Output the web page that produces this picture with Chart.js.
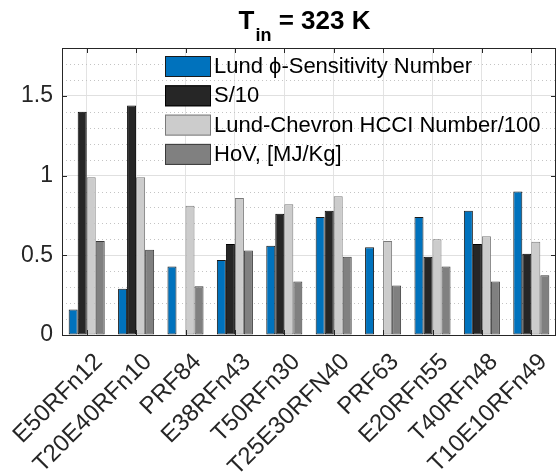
<!DOCTYPE html>
<html>
<head>
<meta charset="utf-8">
<script src="https://cdn.jsdelivr.net/npm/chart.js@4.4.1/dist/chart.umd.min.js"></script>
<style>
  html, body { margin: 0; padding: 0; background: #fff; }
</style>
</head>
<body>
<canvas id="barChart" width="560" height="474"></canvas>
<script>
// Datos (Tin = 323 K)
const fuels = ['E50RFn12', 'T20E40RFn10', 'PRF84', 'E38RFn43', 'T50RFn30',
               'T25E30RFN40', 'PRF63', 'E20RFn55', 'T40RFn48', 'T10E10RFn49'];
const lundSensitivity = [0.16, 0.29, 0.43, 0.47, 0.56, 0.74, 0.55, 0.74, 0.78, 0.90];
const sOver10 = [1.40, 1.44, 0, 0.57, 0.76, 0.78, 0, 0.49, 0.57, 0.51];
const lundChevron = [0.99, 0.99, 0.81, 0.86, 0.82, 0.87, 0.59, 0.60, 0.62, 0.585];
const hov = [0.59, 0.535, 0.305, 0.53, 0.335, 0.49, 0.31, 0.43, 0.335, 0.375];
const seriesNames = ['Lund \u03D5-Sensitivity Number', 'S/10', 'Lund-Chevron HCCI Number/100', 'HoV, [MJ/Kg]'];
const yTicks = [0, 0.5, 1, 1.5];

const FONT = '"Liberation Sans", Arial, sans-serif';
const TXT = '#262626';

// Título con subíndice: T_in = 323 K
const titlePlugin = {
    id: 'titleSub',
    afterDraw(chart) {
        const ctx = chart.ctx;
        const big = 'bold 26px ' + FONT;
        const small = 'bold 18px ' + FONT;
        ctx.save();
        ctx.fillStyle = '#000';
        ctx.textBaseline = 'alphabetic';
        ctx.font = big;
        const wT = ctx.measureText('T').width;
        const wRest = ctx.measureText(' = 323 K').width;
        ctx.font = small;
        const wIn = ctx.measureText('in').width;
        let x = 304 - (wT + wIn + wRest) / 2;
        const y = 29;
        ctx.font = big;
        ctx.fillText('T', x, y);
        x += wT + 1;
        ctx.font = small;
        ctx.fillText('in', x, y + 12);
        x += wIn;
        ctx.font = big;
        ctx.fillText(' = 323 K', x, y);
        ctx.restore();
    }
};

// Rejilla menor punteada, caja y marcas hacia dentro
const axesPlugin = {
    id: 'matlabAxes',
    beforeDatasetsDraw(chart) {
        const ctx = chart.ctx;
        const area = chart.chartArea;
        const y = chart.scales.y;
        ctx.save();
        ctx.strokeStyle = '#c4c4c4';
        ctx.lineWidth = 1;
        ctx.setLineDash([1, 3]);
        for (let i = 1; i < 18; i++) {
            if (i % 5 === 0) continue;
            const py = Math.round(y.getPixelForValue(i / 10)) + 0.5;
            ctx.beginPath();
            ctx.moveTo(area.left, py);
            ctx.lineTo(area.right, py);
            ctx.stroke();
        }
        ctx.restore();
    },
    afterDatasetsDraw(chart) {
        const ctx = chart.ctx;
        const area = chart.chartArea;
        const xs = chart.scales.x;
        const ys = chart.scales.y;
        ctx.save();
        ctx.strokeStyle = TXT;
        ctx.lineWidth = 1;
        ctx.strokeRect(Math.round(area.left) + 0.5, Math.round(area.top) + 0.5,
            Math.round(area.right - area.left) - 1, Math.round(area.bottom - area.top));
        ctx.beginPath();
        fuels.forEach((f, i) => {
            const px = Math.round(xs.getPixelForValue(i)) + 0.5;
            ctx.moveTo(px, area.bottom); ctx.lineTo(px, area.bottom - 5);
            ctx.moveTo(px, area.top); ctx.lineTo(px, area.top + 5);
        });
        yTicks.forEach(v => {
            const py = Math.round(ys.getPixelForValue(v)) + 0.5;
            ctx.moveTo(area.left, py); ctx.lineTo(area.left + 5, py);
            ctx.moveTo(area.right, py); ctx.lineTo(area.right - 5, py);
        });
        ctx.stroke();

        // Leyenda dentro del área
        const lx = 165, ly = 56, pitch = 29.3;
        ctx.font = '22px ' + FONT;
        ctx.textBaseline = 'middle';
        chart.data.datasets.forEach((ds, i) => {
            const top = ly + i * pitch;
            ctx.fillStyle = ds.backgroundColor;
            ctx.fillRect(lx, top, 46, 21);
            ctx.strokeStyle = ds.borderColor;
            ctx.strokeRect(lx + 0.5, top + 0.5, 45, 20);
            ctx.fillStyle = '#000';
            ctx.fillText(ds.label, lx + 49, top + 11);
        });
        ctx.restore();
    }
};

const colors = ['#0072BD', '#262626', '#CCCCCC', '#808080'];
const edges = ['#1a1a1a', '#000000', '#7a7a7a', '#3a3a3a'];
const seriesData = [lundSensitivity, sOver10, lundChevron, hov];

new Chart(document.getElementById('barChart'), {
    type: 'bar',
    data: {
        labels: fuels,
        datasets: seriesData.map((d, i) => ({
            label: seriesNames[i],
            data: d,
            backgroundColor: colors[i],
            borderColor: edges[i],
            borderWidth: 1,
            borderSkipped: false,
            categoryPercentage: 0.73,
            barPercentage: 1.0
        }))
    },
    options: {
        responsive: false,
        animation: false,
        devicePixelRatio: 1,
        layout: { padding: { top: 48, right: 4, left: 0, bottom: 0 } },
        plugins: {
            legend: { display: false },
            title: { display: false },
            tooltip: { enabled: false }
        },
        scales: {
            x: {
                offset: true,
                afterFit: s => {
                    s.height = 139;
                    s.paddingLeft = 0;
                    s.paddingRight = 0;
                },
                grid: { offset: false, color: '#e3e3e3', drawTicks: false },
                border: { display: false },
                ticks: {
                    autoSkip: false,
                    minRotation: 45,
                    maxRotation: 45,
                    padding: 13,
                    labelOffset: 12,
                    color: TXT,
                    font: { family: FONT, size: 24 }
                }
            },
            y: {
                min: 0,
                max: 1.8,
                afterFit: s => { s.width = 62; },
                afterBuildTicks: s => { s.ticks = yTicks.map(v => ({ value: v })); },
                grid: { color: '#e0e0e0', drawTicks: false },
                border: { display: false },
                ticks: {
                    padding: 9,
                    color: TXT,
                    font: { family: FONT, size: 23 },
                    callback: v => String(v)
                }
            }
        }
    },
    plugins: [titlePlugin, axesPlugin]
});
</script>
</body>
</html>
